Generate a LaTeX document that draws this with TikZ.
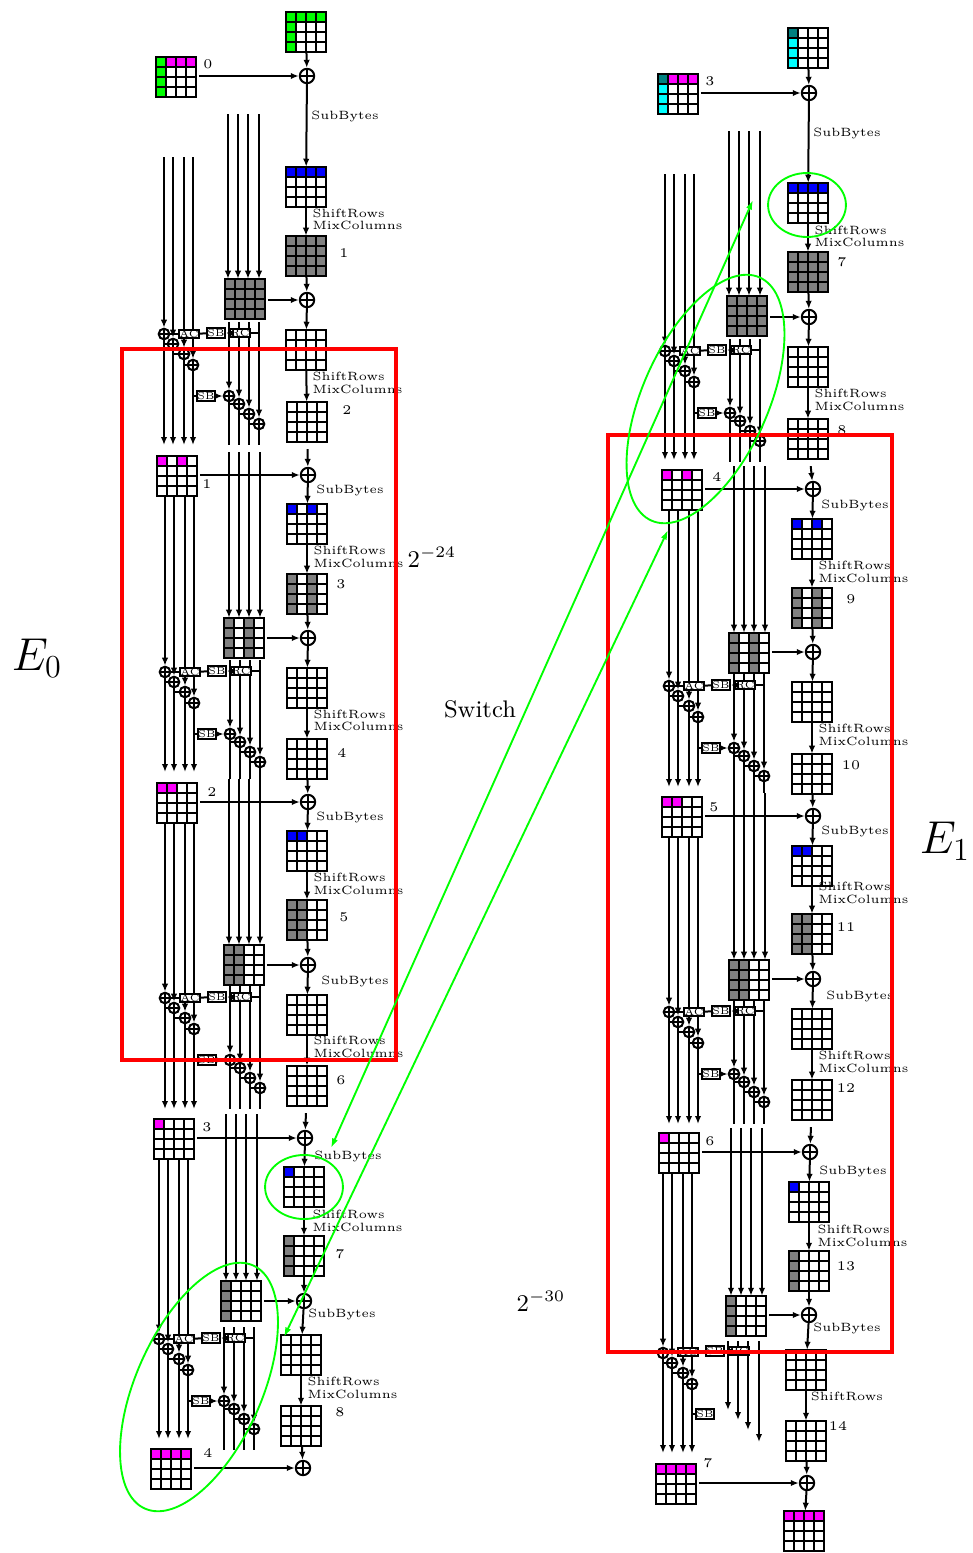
\documentclass[tikz,border=0pt]{standalone}
\usepackage{tikz}
\usetikzlibrary{shapes.geometric,arrows.meta,calc}
\definecolor{keymagenta}{RGB}{255,0,255}
\definecolor{keycyan}{RGB}{0,255,255}
\definecolor{keyteal}{RGB}{0,128,128}
\definecolor{linegreen}{RGB}{0,255,0}

\tikzset{
  statecell/.style={draw, line width=0.85pt, fill=white, inner sep=0pt, outer sep=0pt, minimum size=15.2pt},
  gridline/.style={line width=0.85pt},
  wireline/.style={line width=0.75pt},
  wire/.style={line width=0.75pt, -{Latex[length=3pt,width=2.4pt]}},
  xorbig/.style={circle, draw, line width=0.75pt, fill=white, inner sep=0pt, minimum size=5.4pt,
    path picture={\draw[line width=0.6pt] (path picture bounding box.north) -- (path picture bounding box.south)
      (path picture bounding box.west) -- (path picture bounding box.east);}},
  xorsmall/.style={xorbig, minimum size=4pt},
  opbox/.style={draw, line width=0.75pt, fill=white, inner sep=0pt, minimum width=6.6pt, minimum height=3.1pt,
    font=\fontsize{3.8}{3.8}\selectfont},
  oplabel/.style={font=\fontsize{4.5}{4.7}\selectfont, inner sep=0pt},
  twolines/.style={oplabel, anchor=west, align=left},
  roundno/.style={font=\tiny, inner sep=0pt},
  redframe/.style={draw=red, line width=1.5pt},
  ringgreen/.style={ellipse, draw=linegreen, line width=0.7pt, inner sep=0pt},
  switcharrow/.style={linegreen, line width=0.7pt, {Latex[length=3.6pt,width=2.4pt]}-{Latex[length=3.6pt,width=2.4pt]}},
}

% 4x4 state, top left corner at #2,#3
\newcommand{\statebox}[3]{%
  \node[statecell] (#1) at (#2+21,#3+21) {};
  \foreach \k in {1,2,3} {
    \draw[gridline] ($(#1.north west)!\k/4!(#1.north east)$) -- ($(#1.south west)!\k/4!(#1.south east)$);
    \draw[gridline] ($(#1.north west)!\k/4!(#1.south west)$) -- ($(#1.north east)!\k/4!(#1.south east)$);
  }
}
\newcommand{\paintcells}[3]{%
  \foreach \i/\j in {#3} {
    \fill[#2] ([shift={(\i*10.125+1,\j*10.125+1)}]#1.north west) rectangle ++(8.1,8.1);
  }
}
% left half of a key round: wires down through the first xors
\newcommand{\keywires}[5]{%
  \foreach \i/\dx/\dy in {1/0/0,2/9/10,3/20/20,4/29/31} {
    \node[xorsmall] (#1c\i) at (#2+\dx,#3+\dy) {};
    \coordinate (#1t\i) at (#2+\dx,#4);
    \coordinate (#1e\i) at (#2+\dx,#5);
    \draw[wire] (#1t\i) -- (#1c\i);
    \draw[wire] (#1c\i) -- (#1e\i);
  }
  \draw[wireline] (#1c1 |- #1c2) -- (#1c2);
  \draw[wireline] (#1c2 |- #1c3) -- (#1c3);
  \draw[wireline] (#1c3 |- #1c4) -- (#1c4);
}
% right half of a key round
\newcommand{\keymix}[4]{%
  \foreach \i/\dx/\dy in {1/65/62,2/75/70,3/85/80,4/95/90} {
    \node[xorsmall] (#1d\i) at (#2+\dx,#3+\dy) {};
    \coordinate (#1u\i) at (#2+\dx,#3-12);
    \coordinate (#1v\i) at (#2+\dx,#4);
    \draw[wire] (#1u\i) -- (#1d\i);
    \draw[wireline] (#1d\i) -- (#1v\i);
  }
  \draw[wireline] (#1d1 |- #1d2) -- (#1d2);
  \draw[wireline] (#1d2 |- #1d3) -- (#1d3);
  \draw[wireline] (#1d3 |- #1d4) -- (#1d4);
}
\newcommand{\keyboxes}[3]{%
  \node[opbox] (#1ac) at (#2+25,#3) {AC};
  \node[opbox, minimum height=3.4pt] (#1sb) at (#2+52,#3-1) {SB};
  \node[opbox] (#1rc) at (#2+76,#3-1) {RC};
  \node[opbox, minimum height=3.4pt] (#1sl) at (#2+42,#3+62) {SB};
  \coordinate (#1rcend) at (#2+95,#3-1);
  \draw[wireline] (#1ac) -- (#1c1);
  \draw[wireline] (#1sb) -- (#1ac);
  \draw[wire] (#1rc) -- (#1sb);
  \draw[wireline] (#1rcend) -- (#1rc);
  \draw[wireline] (#1c4 |- #1sl) -- (#1sl);
}
\newcommand{\keyround}[6]{%
  \keywires{#1}{#2}{#3}{#4}{#5}
  \keymix{#1}{#2}{#3}{#6}
  \keyboxes{#1}{#2}{#3}
  \draw[wire] (#1sl) -- (#1d1);
}
% wires feeding a key state from above
\newcommand{\feedwires}[4]{%
  \foreach \i/\dx in {1/0,2/10,3/20,4/31} {
    \coordinate (#1f\i) at (#3+\dx,#4);
    \draw[wire] (#1f\i) -- (#1f\i |- #2.north);
  }
}

\begin{document}
\begin{tikzpicture}[x=0.375pt,y=-0.375pt]
  \useasboundingbox (0,0) rectangle (973,1553);

  % left trail
  \foreach \nm/\x/\y in {lt/285/11,lk0/155/56,ln1/285/166,ln2/285/235,lg1/224/278,ln3/285/329,ln4/286/401,
      lk1/156/455,ln5/286/503,ln6/286/573,lg2/223/617,ln7/286/667,ln8/286/738,lk2/156/782,ln9/286/830,
      ln10/286/899,lg3/223/944,ln11/286/994,ln12/286/1065,lk3/153/1118,ln13/283/1166,ln14/283/1235,
      lg4/220/1280,ln15/280/1334,ln16/280/1405,lk4/150/1448} {
    \statebox{\nm}{\x}{\y}
  }
  % right trail
  \foreach \nm/\x/\y in {rt/787/27,rk0/657/73,rn1/787/182,rn2/787/251,rg1/726/295,rn3/787/346,rn4/787/418,
      rk1/661/469,rn5/791/518,rn6/791/587,rg2/728/632,rn7/791/681,rn8/791/753,rk2/661/796,rn9/791/845,
      rn10/791/913,rg3/728/959,rn11/791/1008,rn12/791/1079,rk3/658/1132,rn13/788/1181,rn14/788/1250,
      rg4/725/1295,rn15/785/1349,rn16/785/1420,rk4/655/1463,rend/783/1510} {
    \statebox{\nm}{\x}{\y}
  }

  \paintcells{lt}{linegreen}{0/0,1/0,2/0,3/0,0/1,0/2,0/3}
  \paintcells{lk0}{linegreen}{0/0,0/1,0/2,0/3}
  \paintcells{lk0}{keymagenta}{1/0,2/0,3/0}
  \paintcells{rt}{keyteal}{0/0}
  \paintcells{rt}{keycyan}{0/1,0/2,0/3}
  \paintcells{rk0}{keyteal}{0/0}
  \paintcells{rk0}{keycyan}{0/1,0/2,0/3}
  \paintcells{rk0}{keymagenta}{1/0,2/0,3/0}
  \foreach \nm in {ln1,rn1} {\paintcells{\nm}{blue}{0/0,1/0,2/0,3/0}}
  \foreach \nm in {ln5,rn5} {\paintcells{\nm}{blue}{0/0,2/0}}
  \foreach \nm in {ln9,rn9} {\paintcells{\nm}{blue}{0/0,1/0}}
  \foreach \nm in {ln13,rn13} {\paintcells{\nm}{blue}{0/0}}
  \foreach \nm in {lk1,rk1} {\paintcells{\nm}{keymagenta}{0/0,2/0}}
  \foreach \nm in {lk2,rk2} {\paintcells{\nm}{keymagenta}{0/0,1/0}}
  \foreach \nm in {lk3,rk3} {\paintcells{\nm}{keymagenta}{0/0}}
  \foreach \nm in {lk4,rk4,rend} {\paintcells{\nm}{keymagenta}{0/0,1/0,2/0,3/0}}
  \foreach \nm in {ln2,lg1,rn2,rg1} {\paintcells{\nm}{gray}{0/0,1/0,2/0,3/0,0/1,1/1,2/1,3/1,0/2,1/2,2/2,3/2,0/3,1/3,2/3,3/3}}
  \foreach \nm in {ln6,lg2,rn6,rg2} {\paintcells{\nm}{gray}{0/0,0/1,0/2,0/3,2/0,2/1,2/2,2/3}}
  \foreach \nm in {ln10,lg3,rn10,rg3} {\paintcells{\nm}{gray}{0/0,0/1,0/2,0/3,1/0,1/1,1/2,1/3}}
  \foreach \nm in {ln14,lg4,rn14,rg4} {\paintcells{\nm}{gray}{0/0,0/1,0/2,0/3}}

  % xors of the two data paths
  \foreach \nm/\x/\y in {lx0/307/76,lx1/307/300,lx2/308/475,lx3/308/638,lx4/308/802,lx5/308/965,lx6/305/1138,lx7/304/1301,lx8/303/1468,
      rx0/809/93,rx1/809/317,rx2/813/489,rx3/813/652,rx4/813/816,rx5/813/979,rx6/810/1152,rx7/809/1315,rx8/807/1483} {
    \node[xorbig] (\nm) at (\x,\y) {};
  }

  \foreach \u/\v in {lt/lx0,lx0/ln1,ln1/ln2,ln2/lx1,lx1/ln3,ln3/ln4,lx2/ln5,ln5/ln6,ln6/lx3,lx3/ln7,ln7/ln8,ln8/lx4,lx4/ln9,
      ln9/ln10,ln10/lx5,lx5/ln11,ln11/ln12,lx6/ln13,ln13/ln14,ln14/lx7,lx7/ln15,ln15/ln16,ln16/lx8,
      rt/rx0,rx0/rn1,rn1/rn2,rn2/rx1,rx1/rn3,rn3/rn4,rx2/rn5,rn5/rn6,rn6/rx3,rx3/rn7,rn7/rn8,rn8/rx4,rx4/rn9,
      rn9/rn10,rn10/rx5,rx5/rn11,rn11/rn12,rx6/rn13,rn13/rn14,rn14/rx7,rx7/rn15,rn15/rn16,rn16/rx8,rx8/rend} {
    \draw[wire] (\u) -- (\v);
  }
  \foreach \u/\v in {ln4/lx2,ln12/lx6,rn4/rx2,rn12/rx6} {
    \draw[wire, shorten <=2.6pt] (\u) -- (\v);
  }
  \foreach \u/\v in {lk0/lx0,lg1/lx1,lk1/lx2,lg2/lx3,lk2/lx4,lg3/lx5,lk3/lx6,lg4/lx7,lk4/lx8,
      rk0/rx0,rg1/rx1,rk1/rx2,rg2/rx3,rk2/rx4,rg3/rx5,rk3/rx6,rg4/rx7,rk4/rx8} {
    \draw[wire, shorten <=1pt] (\u.east |- \v) -- (\v);
  }

  % key rounds
  \feedwires{l1}{lg1}{228}{114}
  \keyround{l1}{164}{334}{157}{445}{445}
  \feedwires{l2}{lg2}{229}{452}
  \keyround{l2}{165}{672}{497}{772}{779}
  \feedwires{l3}{lg3}{229}{779}
  \keyround{l3}{165}{998}{824}{1109}{1109}
  \feedwires{l4}{lg4}{226}{1114}
  \keyround{l4}{159}{1339}{1160}{1439}{1450}
  \feedwires{r1}{rg1}{729}{131}
  \keyround{r1}{665}{351}{174}{460}{462}
  \feedwires{r2}{rg2}{734}{466}
  \keyround{r2}{669}{686}{511}{787}{793}
  \feedwires{r3}{rg3}{734}{793}
  \keyround{r3}{669}{1012}{838}{1124}{1124}
  \feedwires{r4}{rg4}{731}{1128}
  \keywires{r4}{663}{1353}{1174}{1453}
  \foreach \i/\x/\y in {1/728/1410,2/738/1420,3/748/1430,4/759/1442} {
    \coordinate (r4u\i) at (\x,1341);
    \coordinate (r4v\i) at (\x,\y);
    \draw[wire] (r4u\i) -- (r4v\i);
  }
  \keyboxes{r4}{663}{1352}

  % operation names
  \foreach \x/\y [count=\n] in {345/116,350/490,350/817,355/981,348/1156,342/1314,
      847/133,855/505,855/831,860/996,853/1171,847/1328} {
    \node[oplabel] (subb\n) at (\x,\y) {SubBytes};
  }
  \foreach \x/\y [count=\n] in {312/219.5,312/383,313/557,313/720.5,313/884,313/1047,312/1221,307/1388,
      814/236.5,814/400,818/572,818/735,818/893,818/1062,817/1236} {
    \node[twolines] (srmc\n) at (\x,\y) {ShiftRows\\MixColumns};
  }
  \node[oplabel] (srlast) at (847,1396) {ShiftRows};

  % round numbers
  \foreach \t/\x/\y [count=\n] in {0/208/64,1/207/484,2/212/792,3/207/1127,4/208/1453,
      1/344/253,2/347/410,3/341/584,4/342/753,5/344/917,6/341/1080,7/340/1254,8/340/1412,
      3/710/81,4/717/477,5/714/807,6/710/1141,7/708/1463,
      7/842/262,8/842/430,9/851/599,10/851/765,11/846/927,12/846/1088,13/846/1266,14/838/1426} {
    \node[roundno] (num\n) at (\x,\y) {\t};
  }

  % probabilities and cipher names
  \node[font=\LARGE] (ezero) at (37,658) {$E_0$};
  \node[font=\LARGE] (eone) at (945,841) {$E_1$};
  \node[font=\small] (switchlabel) at (480,709) {Switch};
  \node[font=\small] (ptop) at (432,557) {$2^{-24}$};
  \node[font=\small] (pbot) at (541,1301) {$2^{-30}$};

  \draw[redframe] (122,349) rectangle (396,1060);
  \draw[redframe] (608,435) rectangle (892,1352);

  \node[ringgreen, minimum width=29.2pt, minimum height=24pt] (ringl) at (304,1187) {};
  \node[ringgreen, minimum width=29.2pt, minimum height=24pt] (ringr) at (807,205) {};
  \node[ringgreen, minimum width=99.8pt, minimum height=47.2pt, rotate=66] (ovall) at (199,1387) {};
  \node[ringgreen, minimum width=99.8pt, minimum height=47.2pt, rotate=66] (ovalr) at (705.5,399) {};

  \coordinate (swa) at (753,200);
  \coordinate (swb) at (331,1148);
  \coordinate (swc) at (668,530);
  \coordinate (swd) at (284,1337);
  \draw[switcharrow] (swa) -- (swb);
  \draw[switcharrow] (swc) -- (swd);
\end{tikzpicture}
\end{document}
